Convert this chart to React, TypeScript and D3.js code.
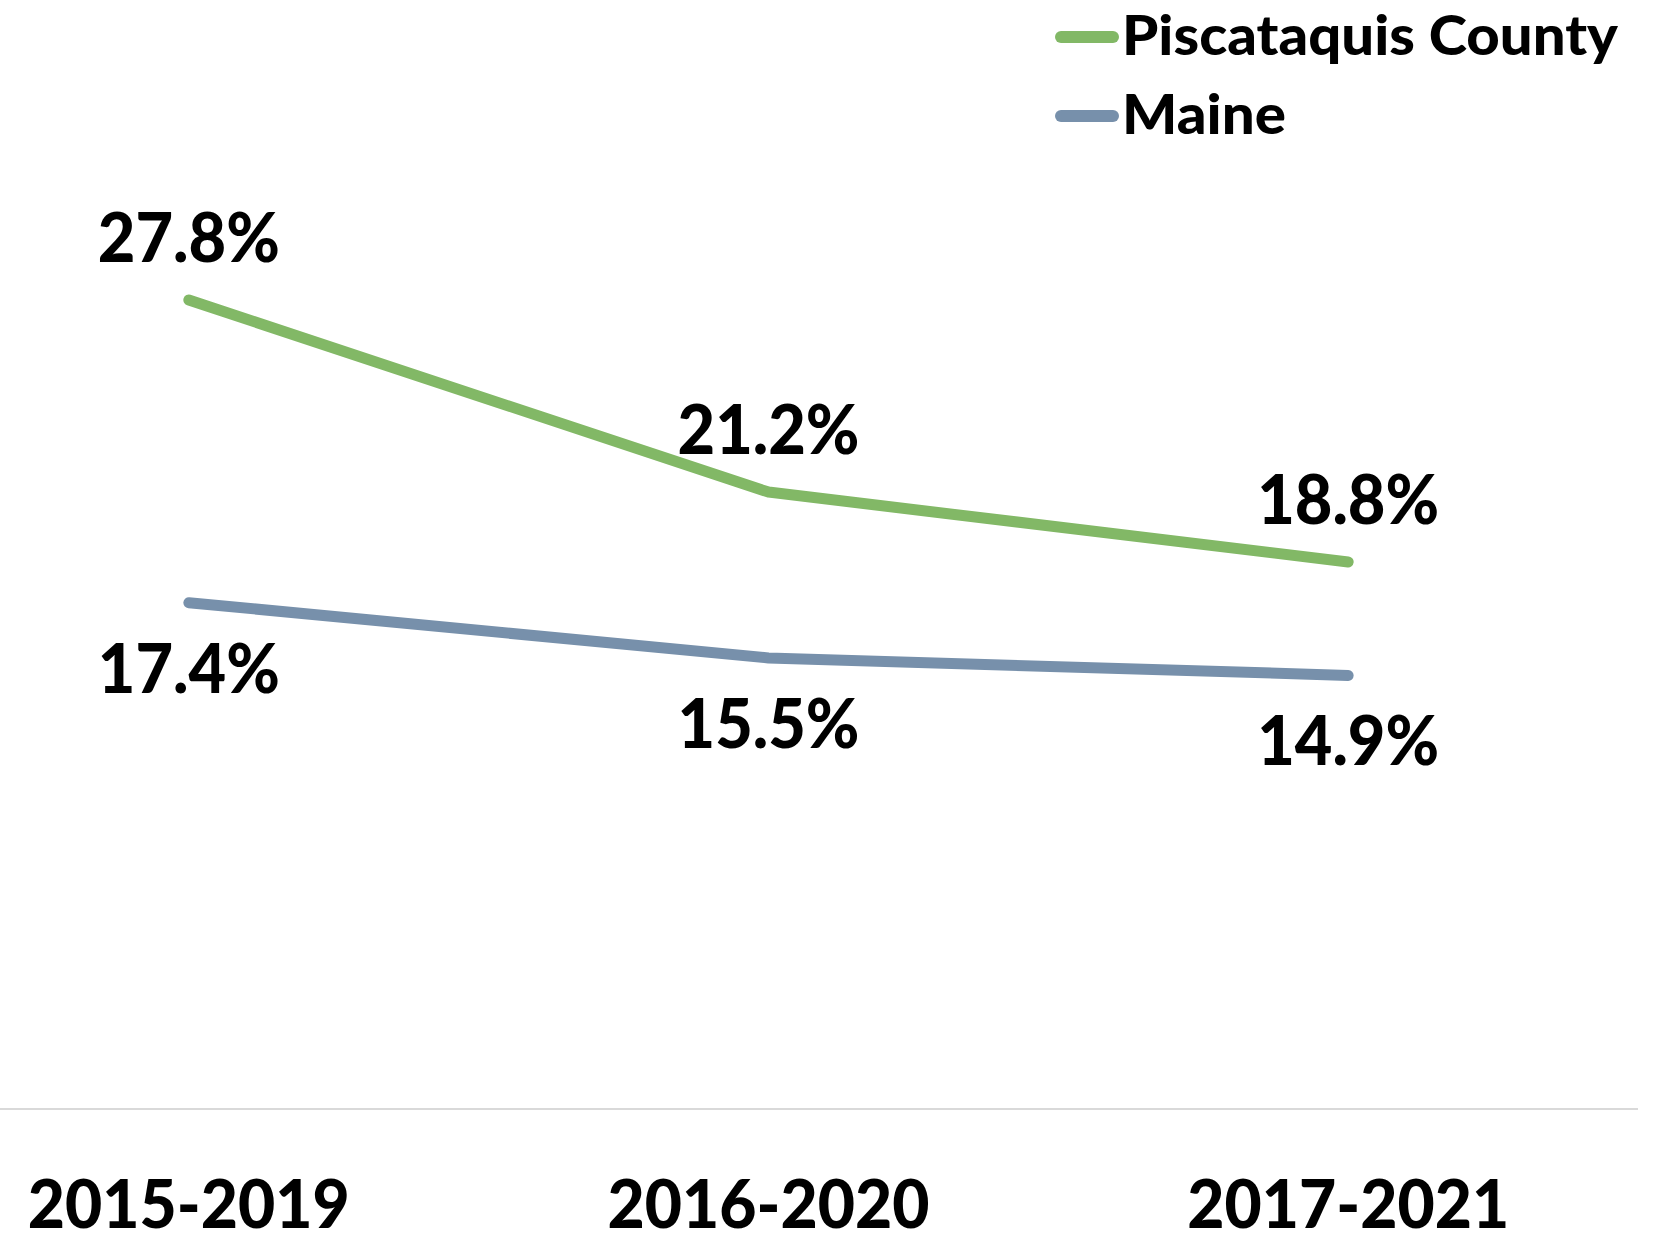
import React from 'react';
import * as d3 from 'd3';

const periods = ['2015-2019', '2016-2020', '2017-2021'];
const piscataquis = [27.8, 21.2, 18.8];
const maine = [17.4, 15.5, 14.9];
const seriesNames = ['Piscataquis County', 'Maine'];

const App = () => {
    const width = 1664;
    const height = 1234;
    const font = 'Lato, "Open Sans", sans-serif';
    const weight = 900;

    const xScale = d3.scalePoint<string>()
        .domain(periods)
        .range([-101, 1638])
        .padding(0.5);

    const yScale = d3.scaleLinear()
        .domain([0, 30])
        .range([1109, 236]);

    const line_generator = d3.line<number>()
        .x((d, i) => xScale(periods[i]) as number)
        .y(d => yScale(d));

    const series = [
        { name: seriesNames[0], values: piscataquis, color: '#82b866', labelDy: -38, legendWidth: 496 },
        { name: seriesNames[1], values: maine, color: '#7790ab', labelDy: 90, legendWidth: 164 }
    ];

    return (
        <svg width={width} height={height}
            style={{ position: 'absolute', left: 0, top: 0, display: 'block', background: '#fff' }}>
            {/* axis line at zero */}
            <line x1={0} x2={1638} y1={yScale(0)} y2={yScale(0)} stroke="#d9d9d9" strokeWidth={2} />

            {series.map(s => (
                <path key={s.name}
                    d={line_generator(s.values) || ''}
                    fill="none"
                    stroke={s.color}
                    strokeWidth={11}
                    strokeLinecap="round"
                    strokeLinejoin="round" />
            ))}

            {series.map(s => s.values.map((v, i) => (
                <text key={s.name + i}
                    x={xScale(periods[i])}
                    y={yScale(v) + s.labelDy}
                    textAnchor="middle"
                    fontFamily={font}
                    fontWeight={weight}
                    fontSize={69}
                    textLength={182}
                    lengthAdjust="spacingAndGlyphs"
                    fill="#000">
                    {v.toFixed(1)}%
                </text>
            )))}

            {periods.map(p => (
                <text key={p}
                    x={xScale(p)}
                    y={1228}
                    textAnchor="middle"
                    fontFamily={font}
                    fontWeight={weight}
                    fontSize={66}
                    textLength={322}
                    lengthAdjust="spacingAndGlyphs"
                    fill="#000">
                    {p}
                </text>
            ))}

            {/* legend */}
            {series.map((s, i) => (
                <g key={'legend' + s.name} transform={`translate(1055, ${37 + i * 79})`}>
                    <line x1={6} x2={58} y1={0} y2={0}
                        stroke={s.color} strokeWidth={12} strokeLinecap="round" />
                    <text x={67} y={18}
                        fontFamily={font}
                        fontWeight={weight}
                        fontSize={56}
                        textLength={s.legendWidth}
                        lengthAdjust="spacingAndGlyphs"
                        fill="#000">
                        {s.name}
                    </text>
                </g>
            ))}
        </svg>
    );
};

export default App;
